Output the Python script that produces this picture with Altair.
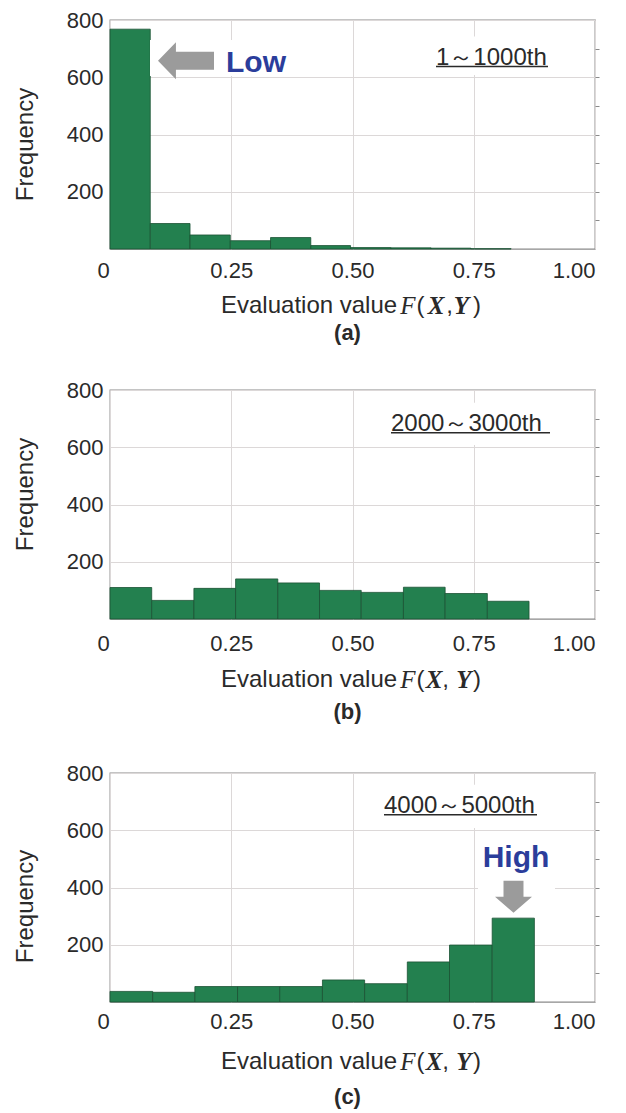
import altair as alt
import pandas as pd

# ---------------- data ----------------
x_ticks = [0, 0.25, 0.5, 0.75, 1.0]
y_ticks = [200, 400, 600, 800]
minor_y = [100, 200, 300, 400, 500, 600, 700]

edges_a = [0, 0.083, 0.165, 0.248, 0.331, 0.414, 0.496, 0.579, 0.662, 0.744, 0.827]
counts_a = [768, 89, 49, 29, 40, 12, 5, 4, 3, 1]

edges_b = [0, 0.086, 0.173, 0.259, 0.346, 0.432, 0.518, 0.605, 0.691, 0.778, 0.864]
counts_b = [110, 65, 107, 140, 126, 100, 93, 111, 89, 62]

edges_c = [0, 0.088, 0.175, 0.263, 0.350, 0.438, 0.525, 0.613, 0.700, 0.788, 0.875]
counts_c = [37, 34, 54, 54, 54, 77, 64, 140, 199, 293]

panel_labels = ["(a)", "(b)", "(c)"]
range_labels = ["1～1000th", " 2000～3000th", "4000～5000th"]
x_title = "Evaluation value"
y_title = "Frequency"

# ---------------- style ----------------
W, H = 485, 229
GREEN = "#23804f"
EDGE = "#1b5234"
GRID = "#dcd8d8"
BORDER = "#8a8a8a"
TXT = "#2a2a2a"
BLUE = "#2b3d9b"
ARROW = "#9b9b9b"
SANS = "Liberation Sans"
SERIF = "Liberation Serif"

LEFT_ARROW = "M -1 0 L -0.36 -0.66 L -0.36 -0.32 L 1 -0.32 L 1 0.32 L -0.36 0.32 L -0.36 0.66 Z"
DOWN_ARROW = "M 0 0.865 L -1 0 L -0.54 0 L -0.54 -0.865 L 0.54 -0.865 L 0.54 0 L 1 0 Z"

one = pd.DataFrame({"k": [0]})


def txt(s, x, y, size=24, align="left", weight="normal", style="normal",
        font=SANS, color=TXT, opacity=1):
    return alt.Chart(one).mark_text(
        text=s, fontSize=size, align=align, baseline="middle",
        fontWeight=weight, fontStyle=style, font=font, color=color, opacity=opacity
    ).encode(x=alt.value(x), y=alt.value(y))


def box(x1, x2, y1, y2):
    return alt.Chart(one).mark_rect(color="white").encode(
        x=alt.value(x1), x2=alt.value(x2), y=alt.value(y1), y2=alt.value(y2))


def rule(x1, x2, y):
    return alt.Chart(one).mark_rule(color=TXT, strokeWidth=1.5).encode(
        x=alt.value(x1), x2=alt.value(x2), y=alt.value(y))


def arrow(path, cx, cy, span):
    return alt.Chart(one).mark_point(
        shape=path, filled=True, color=ARROW, opacity=1, strokeWidth=0,
        size=span * span
    ).encode(x=alt.value(cx), y=alt.value(cy))


def panel(edges, counts, label, rng, cfg):
    df = pd.DataFrame({"x0": edges[:-1], "x1": edges[1:], "count": counts})
    xs = alt.Scale(domain=[0, 1], nice=False, zero=False)
    ys = alt.Scale(domain=[0, 800], nice=False)
    bars = alt.Chart(df).mark_rect(color=GREEN, stroke=EDGE, strokeWidth=0.8).encode(
        x=alt.X("x0:Q", scale=xs, axis=alt.Axis(
            values=x_ticks, title=None, grid=True, gridColor=GRID, ticks=False,
            domain=False, labelFontSize=22, labelFont=SANS, labelColor=TXT,
            labelPadding=cfg["lp"],
            labelExpr="datum.value == 0 ? '0' : format(datum.value, '.2f')",
            labelOffset={"condition": {"test": "datum.value == 0", "value": -13}, "value": 0},
        )),
        x2="x1:Q",
        y=alt.Y("count:Q", scale=ys, axis=alt.Axis(
            values=y_ticks, title=y_title, grid=True, gridColor=GRID, ticks=False,
            domain=False, labelFontSize=22, labelFont=SANS, labelColor=TXT,
            labelPadding=7, titleFontSize=24, titleFont=SANS, titleColor=TXT,
            titleFontWeight="normal", titleX=-73, titleY=cfg["ty"],
        )),
        y2=alt.datum(0),
    )
    right = alt.Chart(df).mark_point(opacity=0).encode(
        y=alt.Y("count:Q", scale=ys, axis=alt.Axis(
            orient="right", values=minor_y, labels=False, ticks=True, tickSize=4,
            tickColor=BORDER, domain=False, grid=False, title=None)),
    )
    layers = [bars, right]
    rx0, rx1, ry = cfg["range"]
    layers += [box(rx0 - 6, rx1 + 6, ry - 30, 55), txt(rng, rx0, ry - 9), rule(rx0, rx1, ry)]
    layers += cfg.get("extra", [])
    # x title pieces
    tb = H + cfg["tt"]
    layers += [
        txt(x_title, 111, tb),
        txt("F", 298, tb, size=25, align="center", style="italic", font=SERIF),
        txt("(", 310.5, tb, size=24, align="center", font=SANS),
        txt("X", cfg["fx"][0], tb, size=25, align="center", style="italic", weight="bold", font=SERIF),
        txt(",", cfg["fx"][1], tb, size=24, align="center", font=SANS),
        txt("Y", cfg["fx"][2], tb, size=25, align="center", style="italic", weight="bold", font=SERIF),
        txt(")", 367, tb, size=24, align="center", font=SANS),
        txt(label, W / 2 - 5, H + cfg["lab"], size=22, align="center", weight="bold"),
    ]
    if cfg.get("pad_extra"):
        layers.append(txt(label, W / 2 - 5, H + cfg["lab"] + cfg["pad_extra"], size=22,
                          align="center", weight="bold", opacity=0))
    return alt.layer(*layers).resolve_axis(y="independent").properties(width=W, height=H)


cfg_a = dict(lp=11, tt=57, lab=84, ty=124, fx=(326, 339.5, 351.5), range=(326, 438, 46.6),
             extra=[box(40, 185, 20, 56),
                    arrow(LEFT_ARROW, 76, 40.8, 56),
                    txt("Low", 116, 43.3, size=30, weight="bold", color=BLUE)])
cfg_b = dict(lp=14, tt=61, lab=93, ty=104, fx=(324, 335.5, 354), range=(281, 440, 42.7),
             pad_extra=4)
cfg_c = dict(lp=9, tt=60, lab=95, ty=133, fx=(324, 335.5, 354), range=(274, 427, 41.7),
             extra=[box(368, 445, 64, 118),
                    txt("High", 406, 85, size=30, weight="bold", align="center", color=BLUE),
                    arrow(DOWN_ARROW, 403.5, 123.7, 37)])

chart = alt.vconcat(
    panel(edges_a, counts_a, panel_labels[0], range_labels[0], cfg_a),
    panel(edges_b, counts_b, panel_labels[1], range_labels[1], cfg_b),
    panel(edges_c, counts_c, panel_labels[2], range_labels[2], cfg_c),
    spacing=33,
).properties(
    padding={"left": 4, "top": 0, "right": 5, "bottom": 0},
    background="white",
).configure_view(stroke=BORDER, strokeWidth=1.3)

chart.save("out.html", embed_options={"renderer": "svg", "actions": False})
